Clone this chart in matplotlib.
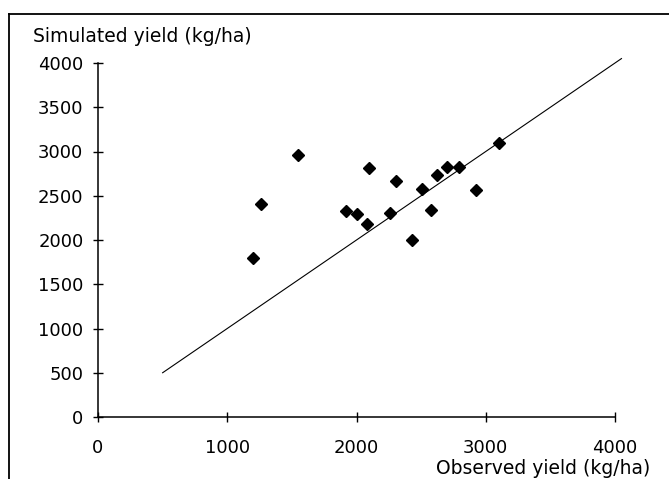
import matplotlib
matplotlib.use("Agg")
import matplotlib.pyplot as plt
from matplotlib.lines import Line2D

observed = [1200, 1260, 1545, 1920, 2005, 2080, 2100, 2260, 2305, 2430,
            2510, 2575, 2625, 2700, 2790, 2925, 3100]
simulated = [1800, 2410, 2960, 2330, 2290, 2180, 2810, 2300, 2665, 2000,
             2575, 2340, 2740, 2830, 2820, 2565, 3095]
line_x = [500, 4050]
line_y = [500, 4050]
xticks = [0, 1000, 2000, 3000, 4000]
yticks = [0, 500, 1000, 1500, 2000, 2500, 3000, 3500, 4000]

plt.rcParams['font.family'] = ['DejaVu Sans']

fig = plt.figure(figsize=(6.69, 4.79), dpi=100)
ax = fig.add_axes([98/669, 1-417/479, (615-98)/669, (417-63)/479])

ax.plot(line_x, line_y, color='black', lw=0.8, clip_on=False)
ax.plot(observed, simulated, linestyle='none', marker='D', ms=6,
        color='black', mec='black')

ax.set_xlim(0, 4000)
ax.set_ylim(0, 4000)
ax.set_xticks(xticks)
ax.set_yticks(yticks)
ax.set_xticklabels([str(v) for v in xticks])
ax.set_yticklabels([str(v) for v in yticks])
for s in ['top', 'right']:
    ax.spines[s].set_visible(False)
for s in ['left', 'bottom']:
    ax.spines[s].set_linewidth(1.1)
ax.tick_params(direction='inout', length=7, width=1, labelsize=13,
               colors='black')
ax.tick_params(axis='x', pad=12)
ax.tick_params(axis='y', pad=7)

fig.text(33/669, 1-37/479, 'Simulated yield (kg/ha)', fontsize=13.5,
         ha='left', va='center')
fig.text(650/669, 1-469/479, 'Observed yield (kg/ha)', fontsize=13.5,
         ha='right', va='center')

# outer frame (left and top borders)
fig.add_artist(Line2D([9/669, 9/669], [0, 1-14/479], color='black', lw=1.3,
                      transform=fig.transFigure))
fig.add_artist(Line2D([9/669, 1], [1-14/479, 1-14/479], color='black', lw=1.3,
                      transform=fig.transFigure))

fig.savefig('out.png', dpi=100)
